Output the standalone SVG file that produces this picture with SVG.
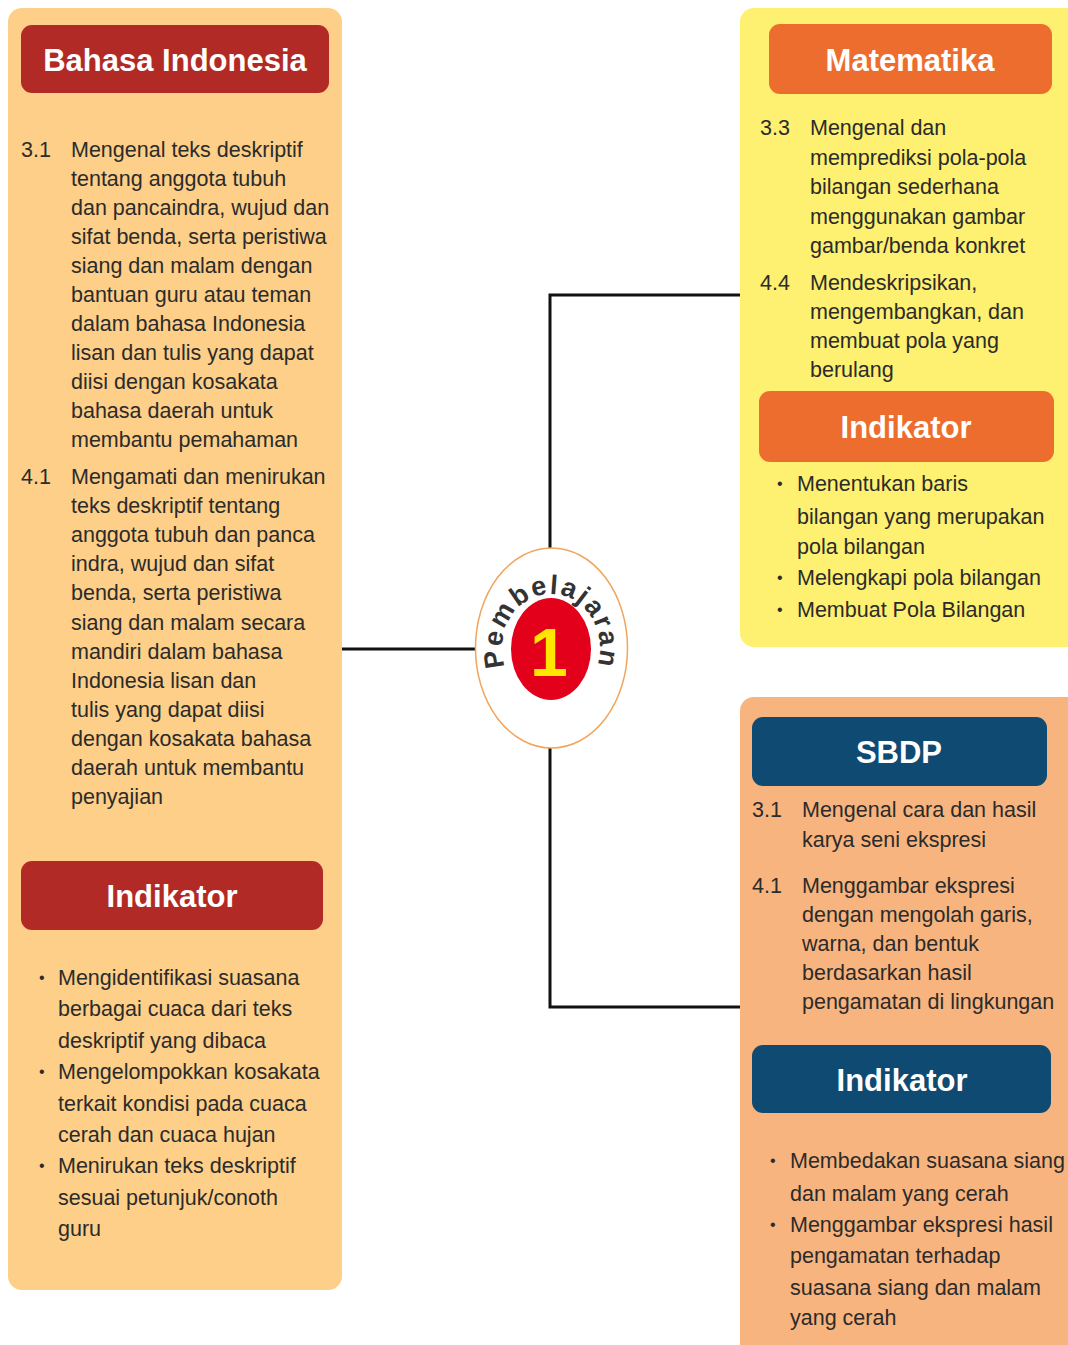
<svg xmlns="http://www.w3.org/2000/svg" width="1068" height="1345" viewBox="0 0 1068 1345">
<style>
.t{font-family:"Liberation Sans",Arial,sans-serif;font-size:21.5px;fill:#2b2b2b}
.h{font-family:"Liberation Sans",Arial,sans-serif;font-size:31px;font-weight:bold;fill:#ffffff;text-anchor:middle}
.b{font-family:"Liberation Sans",Arial,sans-serif;font-size:16px;fill:#2b2b2b}
.ln{stroke:#111;stroke-width:3;fill:none}
</style>
<rect width="1068" height="1345" fill="#ffffff"/>
<g id="connectors">
<path class="ln" d="M550,548 V295 H740"/>
<path class="ln" d="M342,649 H476"/>
<path class="ln" d="M550,748 V1007 H740"/>
</g>
<g id="bahasa-indonesia">
<rect x="8" y="8" width="334" height="1282" rx="14" fill="#FDCF88"/>
<rect x="21" y="25" width="308" height="68" rx="11" fill="#B22A25"/>
<text class="h" x="175" y="71">Bahasa Indonesia</text>
<text class="t" x="21" y="157">3.1</text>
<text class="t" y="157"><tspan x="71">Mengenal teks deskriptif</tspan><tspan x="71" dy="29">tentang anggota tubuh</tspan><tspan x="71" dy="29">dan pancaindra, wujud dan</tspan><tspan x="71" dy="29">sifat benda, serta peristiwa</tspan><tspan x="71" dy="29">siang dan malam dengan</tspan><tspan x="71" dy="29">bantuan guru atau teman</tspan><tspan x="71" dy="29">dalam bahasa Indonesia</tspan><tspan x="71" dy="29">lisan dan tulis yang dapat</tspan><tspan x="71" dy="29">diisi dengan kosakata</tspan><tspan x="71" dy="29">bahasa daerah untuk</tspan><tspan x="71" dy="29">membantu pemahaman</tspan></text>
<text class="t" x="21" y="484">4.1</text>
<text class="t" y="484"><tspan x="71">Mengamati dan menirukan</tspan><tspan x="71" dy="29.1">teks deskriptif tentang</tspan><tspan x="71" dy="29.1">anggota tubuh dan panca</tspan><tspan x="71" dy="29.1">indra, wujud dan sifat</tspan><tspan x="71" dy="29.1">benda, serta peristiwa</tspan><tspan x="71" dy="29.1">siang dan malam secara</tspan><tspan x="71" dy="29.1">mandiri dalam bahasa</tspan><tspan x="71" dy="29.1">Indonesia lisan dan</tspan><tspan x="71" dy="29.1">tulis yang dapat diisi</tspan><tspan x="71" dy="29.1">dengan kosakata bahasa</tspan><tspan x="71" dy="29.1">daerah untuk membantu</tspan><tspan x="71" dy="29.1">penyajian</tspan></text>
</g>
<g id="bahasa-indikator">
<rect x="21" y="861" width="302" height="69" rx="11" fill="#B22A25"/>
<text class="h" x="172" y="907">Indikator</text>
<text class="b" x="39" y="983">•</text>
<text class="b" x="39" y="1077">•</text>
<text class="b" x="39" y="1171">•</text>
<text class="t" y="985"><tspan x="58">Mengidentifikasi suasana</tspan><tspan x="58" dy="31.4">berbagai cuaca dari teks</tspan><tspan x="58" dy="31.4">deskriptif yang dibaca</tspan><tspan x="58" dy="31.4">Mengelompokkan kosakata</tspan><tspan x="58" dy="31.4">terkait kondisi pada cuaca</tspan><tspan x="58" dy="31.4">cerah dan cuaca hujan</tspan><tspan x="58" dy="31.4">Menirukan teks deskriptif</tspan><tspan x="58" dy="31.4">sesuai petunjuk/conoth</tspan><tspan x="58" dy="31.4">guru</tspan></text>
</g>
<g id="matematika">
<rect x="740" y="8" width="345" height="639" rx="14" fill="#FEF070"/>
<rect x="769" y="24" width="283" height="70" rx="11" fill="#EC6D2E"/>
<text class="h" x="910" y="71">Matematika</text>
<text class="t" x="760" y="135">3.3</text>
<text class="t" y="135"><tspan x="810">Mengenal dan</tspan><tspan x="810" dy="29.5">memprediksi pola-pola</tspan><tspan x="810" dy="29.5">bilangan sederhana</tspan><tspan x="810" dy="29.5">menggunakan gambar</tspan><tspan x="810" dy="29.5">gambar/benda konkret</tspan></text>
<text class="t" x="760" y="290">4.4</text>
<text class="t" y="290"><tspan x="810">Mendeskripsikan,</tspan><tspan x="810" dy="29">mengembangkan, dan</tspan><tspan x="810" dy="29">membuat pola yang</tspan><tspan x="810" dy="29">berulang</tspan></text>
</g>
<g id="matematika-indikator">
<rect x="759" y="391" width="295" height="71" rx="11" fill="#EC6D2E"/>
<text class="h" x="906" y="438">Indikator</text>
<text class="b" x="777" y="489">•</text>
<text class="b" x="777" y="583">•</text>
<text class="b" x="777" y="615">•</text>
<text class="t" y="491"><tspan x="797">Menentukan baris</tspan><tspan x="797" dy="32.5">bilangan yang merupakan</tspan><tspan x="797" dy="30.5">pola bilangan</tspan><tspan x="797" dy="31">Melengkapi pola bilangan</tspan><tspan x="797" dy="32">Membuat Pola Bilangan</tspan></text>
</g>
<g id="sbdp">
<rect x="740" y="697" width="345" height="670" rx="14" fill="#F8B47E"/>
<rect x="752" y="717" width="295" height="69" rx="11" fill="#0E4A72"/>
<text class="h" x="899" y="763">SBDP</text>
<text class="t" x="752" y="817">3.1</text>
<text class="t" y="817"><tspan x="802">Mengenal cara dan hasil</tspan><tspan x="802" dy="30">karya seni ekspresi</tspan></text>
<text class="t" x="752" y="893">4.1</text>
<text class="t" y="893"><tspan x="802">Menggambar ekspresi</tspan><tspan x="802" dy="29">dengan mengolah garis,</tspan><tspan x="802" dy="29">warna, dan bentuk</tspan><tspan x="802" dy="29">berdasarkan hasil</tspan><tspan x="802" dy="29">pengamatan di lingkungan</tspan></text>
</g>
<g id="sbdp-indikator">
<rect x="752" y="1045" width="299" height="68" rx="11" fill="#0E4A72"/>
<text class="h" x="902" y="1091">Indikator</text>
<text class="b" x="770" y="1166">•</text>
<text class="b" x="770" y="1230">•</text>
<text class="t" y="1168"><tspan x="790">Membedakan suasana siang</tspan><tspan x="790" dy="32.5">dan malam  yang cerah</tspan><tspan x="790" dy="31">Menggambar ekspresi hasil</tspan><tspan x="790" dy="31">pengamatan terhadap</tspan><tspan x="790" dy="32">suasana siang dan malam</tspan><tspan x="790" dy="30">yang cerah</tspan></text>
</g>
<g id="pembelajaran-1">
<defs><path id="arc" d="M505,666.5 A49,54 0 1,1 597,666.5"/></defs>
<ellipse cx="551.5" cy="648" rx="76" ry="100" fill="#ffffff" stroke="#F0A65C" stroke-width="1.5"/>
<ellipse cx="551" cy="649" rx="40" ry="51" fill="#E2001A"/>
<text x="549" y="676" font-family="Liberation Sans, Arial, sans-serif" font-size="68" font-weight="bold" fill="#FFE600" text-anchor="middle">1</text>
<text font-family="Liberation Sans, Arial, sans-serif" font-size="27" font-weight="bold" fill="#333333" letter-spacing="2"><textPath href="#arc" startOffset="50%" text-anchor="middle">Pembelajaran</textPath></text>
</g>
</svg>
